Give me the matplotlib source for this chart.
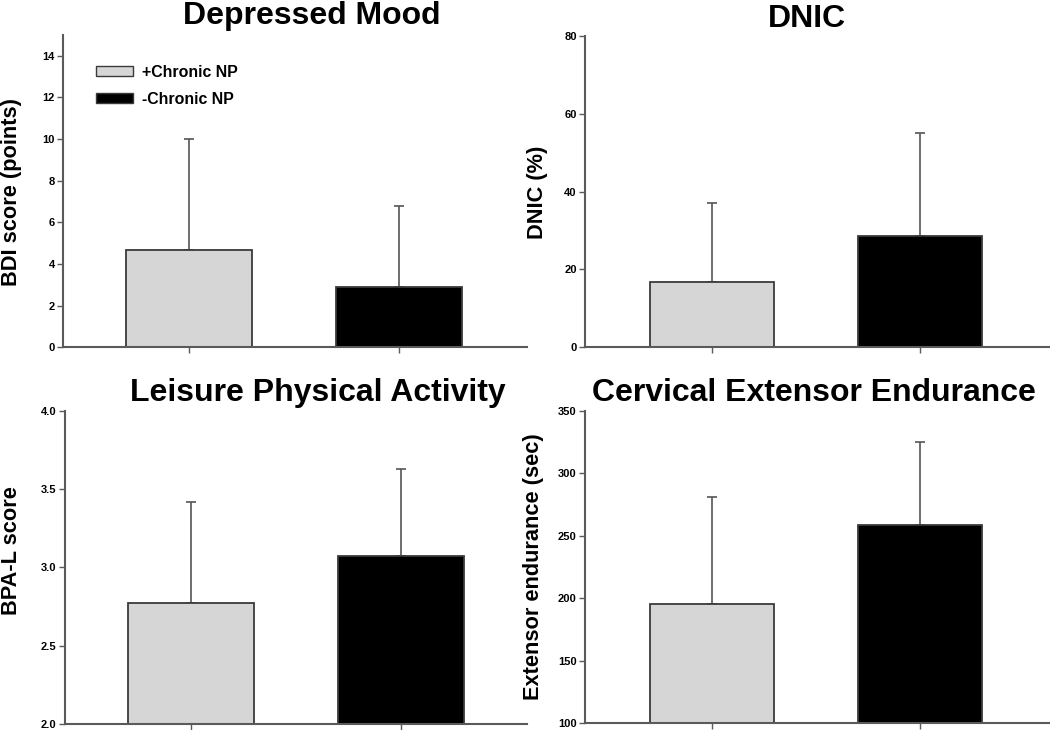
import matplotlib
matplotlib.use("Agg")
import matplotlib.pyplot as plt
from matplotlib.patches import Patch

plt.rcParams['font.family'] = ['Liberation Sans', 'DejaVu Sans']
plt.rcParams['font.weight'] = 'bold'

groups = ["+Chronic NP", "-Chronic NP"]
colors = ["#d6d6d6", "#000000"]

titles = ["Depressed Mood", "DNIC", "Leisure Physical Activity", "Cervical Extensor Endurance"]
ylabels = ["BDI score (points)", "DNIC (%)", "BPA-L score", "Extensor endurance (sec)"]

bdi_mean = [4.68, 2.92]
bdi_sd = [5.31, 3.86]
dnic_mean = [16.8, 28.5]
dnic_sd = [20.3, 26.6]
bpa_mean = [2.77, 3.07]
bpa_sd = [0.65, 0.56]
ext_mean = [195.5, 258.6]
ext_sd = [85.5, 66.2]

means = [bdi_mean, dnic_mean, bpa_mean, ext_mean]
sds = [bdi_sd, dnic_sd, bpa_sd, ext_sd]
ylims = [(0, 15), (0, 80), (2.0, 4.0), (100, 350)]
yticks = [[0, 2, 4, 6, 8, 10, 12, 14], [0, 20, 40, 60, 80],
          [2.0, 2.5, 3.0, 3.5, 4.0], [100, 150, 200, 250, 300, 350]]
ytickfmt = ["{:.0f}", "{:.0f}", "{:.1f}", "{:.0f}"]

W, H = 1050, 730
fig = plt.figure(figsize=(W / 100, H / 100), dpi=100)

# axes rectangles in pixels: left, right, top, bottom
rects = [(63.3, 527, 35, 347.3), (585, 1049, 35.7, 347.3),
         (65, 527, 410.7, 724), (585, 1049, 410.7, 723.3)]
title_pos = [(312, 16), (807, 19), (318, 393), (814, 393)]
ylabel_pos = [(12, 192), (537, 192), (12, 551), (533, 567)]
xlims = [(-0.6, 1.61), (-0.61, 1.62), (-0.6, 1.6), (-0.61, 1.62)]

spine_c = "#5a5a5a"
for i in range(4):
    l, r, t, b = rects[i]
    ax = fig.add_axes([l / W, 1 - b / H, (r - l) / W, (b - t) / H])
    x = list(range(len(groups)))
    ax.bar(x, means[i], width=0.6, color=colors, edgecolor="#3a3a3a",
           linewidth=1.3, zorder=2)
    ax.errorbar(x, means[i], yerr=[[0, 0], sds[i]], fmt="none",
                ecolor="#555555", elinewidth=1.2, capsize=3.5, capthick=1.2,
                zorder=1)
    ax.set_xlim(*xlims[i])
    ax.set_ylim(*ylims[i])
    ax.set_yticks(yticks[i])
    ax.set_yticklabels([ytickfmt[i].format(v) for v in yticks[i]],
                       fontsize=8, fontweight='bold')
    ax.set_xticks(x)
    ax.set_xticklabels([])
    for s in ["top", "right"]:
        ax.spines[s].set_visible(False)
    for s in ["left", "bottom"]:
        ax.spines[s].set_color(spine_c)
        ax.spines[s].set_linewidth(1.5)
    ax.tick_params(axis="both", direction="out", length=4, width=1.0,
                   color=spine_c, pad=2)
    fig.text(title_pos[i][0] / W, 1 - title_pos[i][1] / H, titles[i],
             ha="center", va="center", fontsize=23, fontweight="bold")
    fig.text(ylabel_pos[i][0] / W, 1 - ylabel_pos[i][1] / H, ylabels[i],
             ha="center", va="center", rotation=90, fontsize=15.7,
             fontweight="bold")
    if i == 0:
        handles = [Patch(facecolor=colors[0], edgecolor="#3a3a3a", linewidth=1.0),
                   Patch(facecolor=colors[1], edgecolor="#3a3a3a", linewidth=1.0)]
        ax.legend(handles, groups, loc="upper left",
                  bbox_to_anchor=(0.07, 0.905), frameon=False,
                  handlelength=2.35, handleheight=0.6,
                  labelspacing=0.75, handletextpad=0.6, borderpad=0,
                  borderaxespad=0, prop={'weight': 'bold', 'size': 11.4})

fig.savefig("out.png", dpi=100)
